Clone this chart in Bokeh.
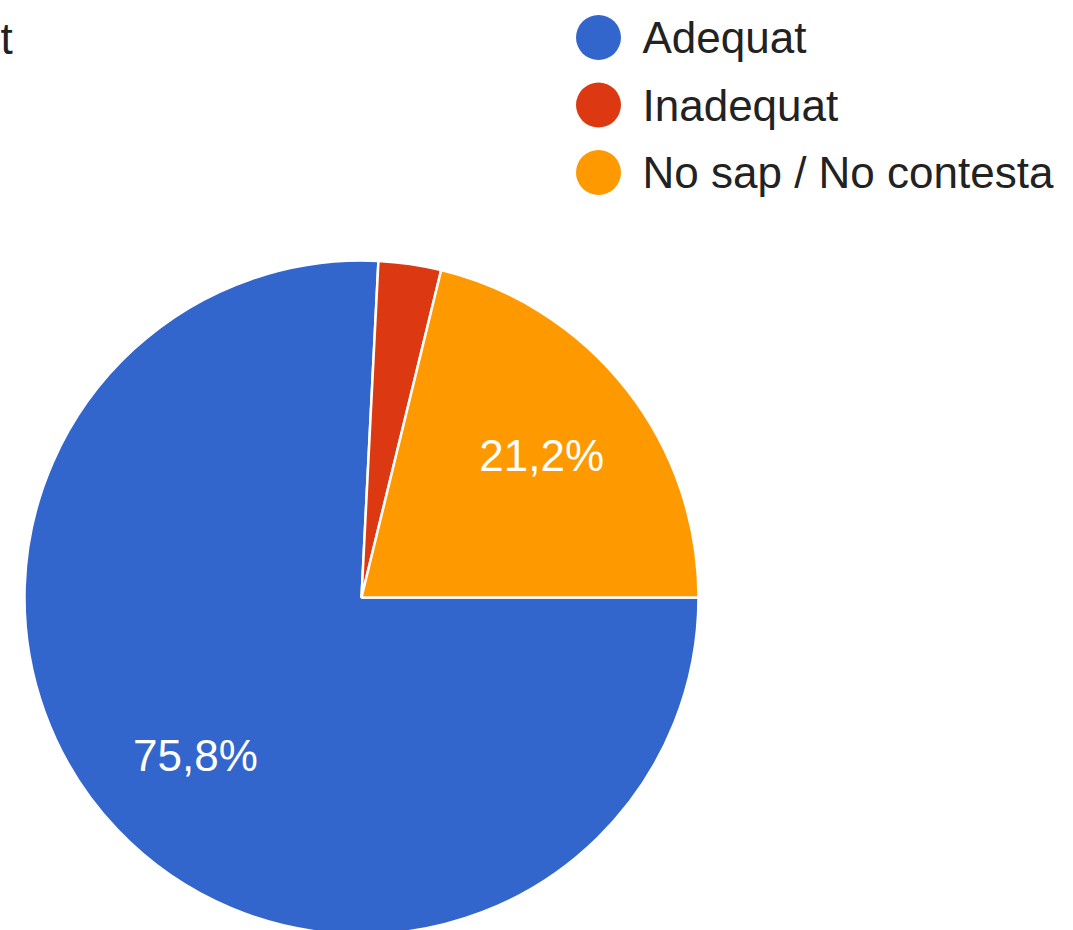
import numpy as np
from bokeh.plotting import figure
from bokeh.models import Range1d, ColumnDataSource
from bokeh.core.properties import value
from bokeh.embed import file_html
from bokeh.resources import INLINE

categories = ["Adequat", "Inadequat", "No sap / No contesta"]
percents = [75.8, 3.0, 21.2]
colors = ["#3366CC", "#DC3912", "#FF9900"]
pct_labels = ["75,8%", "", "21,2%"]

W, H = 1073, 930
p = figure(width=W, height=H, output_backend="svg", toolbar_location=None,
           x_range=Range1d(0, W), y_range=Range1d(0, H),
           min_border=0, outline_line_color=None)
p.axis.visible = False
p.grid.visible = False

cx, cy, r = 361, H - 597, 337
frac = np.array(percents) / sum(percents)
cum = np.concatenate([[0], np.cumsum(frac)])
start = -2 * np.pi * cum[1:]
end = -2 * np.pi * cum[:-1]
src = ColumnDataSource(dict(start=start, end=end, color=colors))
p.wedge(x=cx, y=cy, radius=r, start_angle="start", end_angle="end",
        fill_color="color", line_color="white", line_width=2.5, source=src)

mid = -2 * np.pi * (cum[:-1] + cum[1:]) / 2
lr = 0.68 * r
p.text(x=cx + lr * np.cos(mid), y=cy + lr * np.sin(mid), text=pct_labels,
       text_color="white", text_font=value("Liberation Sans"), text_font_size="44px",
       text_align="center", text_baseline="middle")

# legend
lx, ly0, dy = 598, H - 37, 67.5
ly = [ly0 - i * dy for i in range(len(categories))]
p.scatter(x=[lx] * 3, y=ly, size=45, fill_color=colors, line_color=None)
p.text(x=[lx + 44] * 3, y=ly, text=categories, text_color="#222222",
       text_font=value("Liberation Sans"), text_font_size="44px",
       text_align="left", text_baseline="middle")

# cut-off title fragment
p.text(x=[0], y=[H - 38], text=["t"], text_color="#222222",
       text_font=value("Liberation Sans"), text_font_size="44px",
       text_align="left", text_baseline="middle")

open("out.html", "w").write(file_html(p, INLINE))
